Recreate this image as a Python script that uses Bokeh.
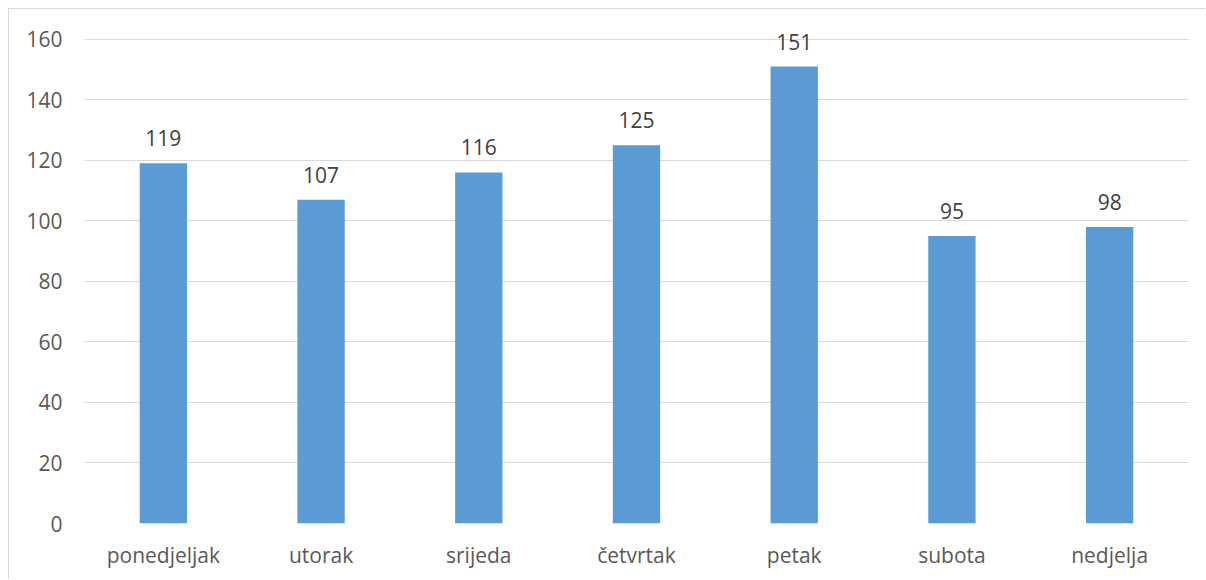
from bokeh.plotting import figure
from bokeh.models import ColumnDataSource, LabelSet, FactorRange, Range1d, FixedTicker
from bokeh.core.properties import value
from bokeh.embed import file_html
from bokeh.resources import INLINE

days = ["ponedjeljak", "utorak", "srijeda", "četvrtak", "petak", "subota", "nedjelja"]
counts = [119, 107, 116, 125, 151, 95, 98]
y_ticks = [0, 20, 40, 60, 80, 100, 120, 140, 160]

FONT = "Open Sans"
TXT = "#595959"

src = ColumnDataSource(dict(day=days, count=counts, label=[str(c) for c in counts]))

p = figure(
    x_range=FactorRange(*days, range_padding=0),
    y_range=Range1d(0, 166.2),
    width=1197, height=571,
    output_backend="svg", toolbar_location=None,
    min_border_left=75, min_border_right=18, min_border_top=11, min_border_bottom=57,
    styles={"margin-left": "8px", "margin-top": "8px",
            "border-top": "1px solid #D9D9D9", "border-left": "1px solid #D9D9D9"},
)
p.outline_line_color = None
p.background_fill_color = "white"
p.border_fill_color = "white"

p.vbar(x="day", top="count", width=0.3, source=src, fill_color="#5B9BD5", line_color=None)

labels = LabelSet(x="day", y="count", text="label", source=src, text_align="center",
                  text_baseline="alphabetic", y_offset=17, text_font=value(FONT),
                  text_font_size="21px", text_color="#404040")
p.add_layout(labels)

p.yaxis.ticker = FixedTicker(ticks=y_ticks)
p.xgrid.grid_line_color = None
p.ygrid.grid_line_color = "#D9D9D9"
p.ygrid.grid_line_width = 1.2

for ax in (p.xaxis, p.yaxis):
    ax.axis_line_color = None
    ax.major_tick_line_color = None
    ax.minor_tick_line_color = None
    ax.major_tick_out = 0
    ax.major_tick_in = 0
    ax.major_label_text_font = FONT
    ax.major_label_text_font_size = "21px"
    ax.major_label_text_color = TXT
p.yaxis.major_label_standoff = 22
p.xaxis.major_label_standoff = 17

open("out.html", "w").write(file_html(p, INLINE))
